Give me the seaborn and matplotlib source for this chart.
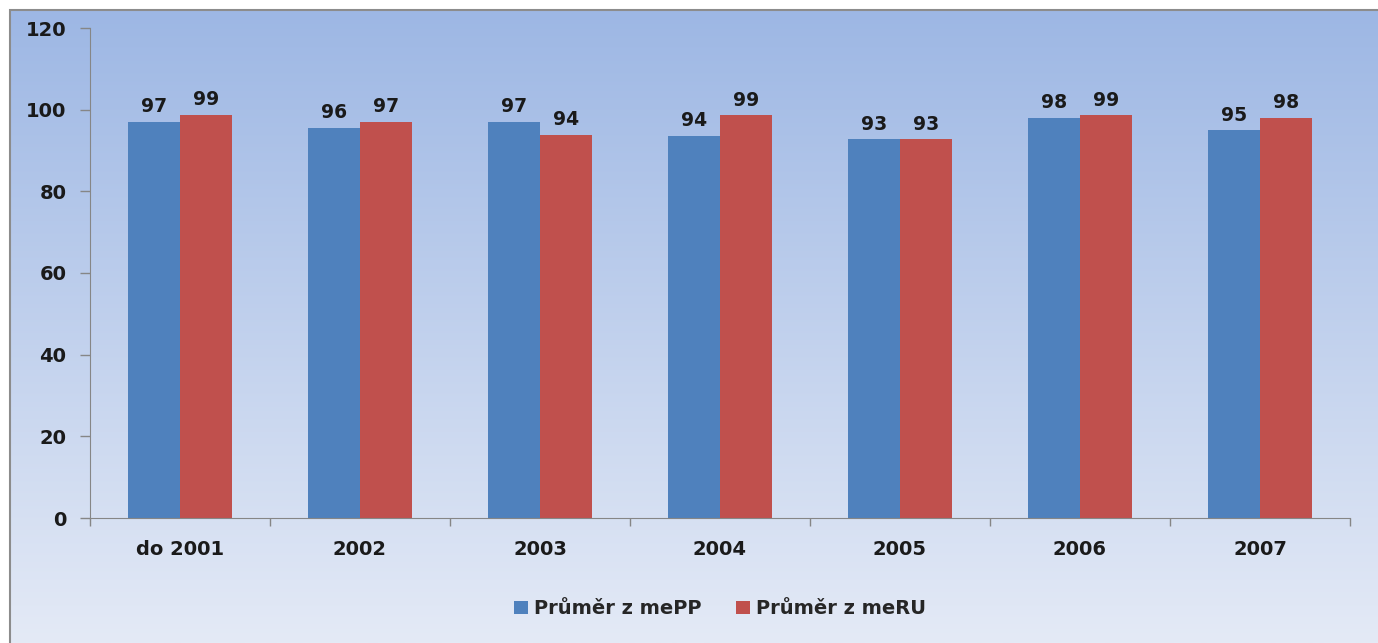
import numpy as np
import pandas as pd
import seaborn as sns
from matplotlib import pyplot as plt
from matplotlib.patches import Rectangle

roky = ['do 2001', '2002', '2003', '2004', '2005', '2006', '2007']
prumer_mepp = [97.0, 95.6, 97.0, 93.6, 92.8, 98.0, 95.0]
prumer_meru = [98.8, 97.0, 93.8, 98.6, 92.8, 98.6, 98.0]
serie = ['Průměr z mePP', 'Průměr z meRU']

df = pd.DataFrame({
    'rok': roky * 2,
    'hodnota': prumer_mepp + prumer_meru,
    'serie': [serie[0]] * len(roky) + [serie[1]] * len(roky),
})

sns.set_style('white')
plt.rcParams['font.family'] = ['DejaVu Sans']

fig = plt.figure(figsize=(13.78, 6.43), dpi=100)

# gradient background with thin frame (left + top only visible)
bg = fig.add_axes([10 / 1378, 0, 1 - 10 / 1378, 1 - 10 / 643], zorder=-1)
grad = np.linspace(0, 1, 256).reshape(-1, 1)
top = np.array([157, 183, 228]) / 255
bottom = np.array([228, 234, 246]) / 255
img = top + (bottom - top) * grad[:, :, None]
bg.imshow(img, aspect='auto', extent=[0, 1, 0, 1])
bg.set_xlim(0, 1)
bg.set_ylim(0, 1)
bg.set_xticks([])
bg.set_yticks([])
for s in bg.spines.values():
    s.set_visible(False)
bg.add_patch(Rectangle((0, -0.1), 1.2, 1.1, fill=False, edgecolor='#8c8c8c', lw=1.5, clip_on=False))

ax = fig.add_axes([90 / 1378, 1 - 518 / 643, (1350 - 90) / 1378, (518 - 28) / 643])
ax.patch.set_alpha(0)
sns.barplot(data=df, x='rok', y='hodnota', hue='serie', palette=['#4F81BD', '#C0504D'],
            width=0.578, saturation=1, linewidth=0, edgecolor='none', ax=ax, legend=True)

for c in ax.containers:
    ax.bar_label(c, fmt='%.0f', padding=4, fontsize=13.5, fontweight='bold', color='#1a1a1a')

ax.set_ylim(0, 120)
ax.set_yticks(range(0, 121, 20))
ax.set_xlim(-0.5, len(roky) - 0.5)
ax.set_xlabel('')
ax.set_ylabel('')
ax.set_xticks(np.arange(len(roky)))
ax.set_xticklabels(roky)
ax.set_xticks(np.arange(len(roky) + 1) - 0.5, minor=True)
ax.tick_params(axis='x', which='major', bottom=True, length=0, pad=16, labelsize=14)
ax.tick_params(axis='x', which='minor', bottom=True, length=6, width=1, color='#868686', direction='out')
ax.tick_params(axis='y', left=True, length=7, width=1, color='#868686', direction='out', labelsize=14, pad=10)
for lab in ax.get_xticklabels() + ax.get_yticklabels():
    lab.set_fontweight('bold')
    lab.set_color('#1a1a1a')
ax.spines['top'].set_visible(False)
ax.spines['right'].set_visible(False)
ax.spines['left'].set_color('#868686')
ax.spines['bottom'].set_color('#868686')

handles, labels = ax.get_legend_handles_labels()
ax.legend(handles, labels, loc='center', bbox_to_anchor=(0.5, -0.185), ncol=2, frameon=False,
          handlelength=0.7, handleheight=0.7, handletextpad=0.3, columnspacing=1.8,
          prop={'size': 14, 'weight': 'bold'})

fig.savefig('out.png', dpi=100)
